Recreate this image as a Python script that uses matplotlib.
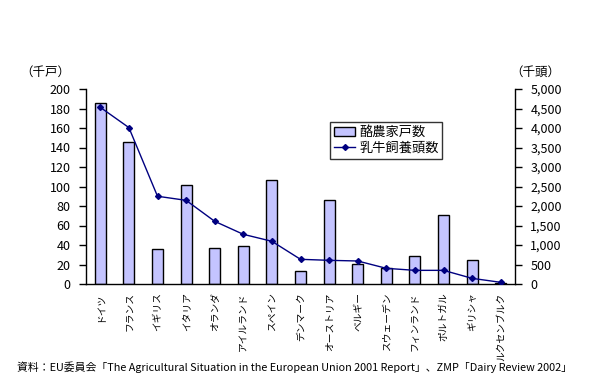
import matplotlib
matplotlib.use("Agg")
import matplotlib.pyplot as plt

plt.rcParams['font.family'] = ['Noto Sans CJK JP', 'DejaVu Sans']

# 国名（縦書きラベル）
countries = ['ドイツ', 'フランス', 'イギリス', 'イタリア', 'オランダ', 'アイルランド',
             'スペイン', 'デンマーク', 'オーストリア', 'ベルギー', 'スウェーデン',
             'フィンランド', 'ポルトガル', 'ギリシャ', 'ルクセンブルク']

# 酪農家戸数（千戸）
farms = [186, 146, 35.6, 102, 36.6, 38.7, 106.6, 13.3, 85.8, 20.2, 16.4, 28.4, 70.8, 24.3, 1]
# 乳牛飼養頭数（千頭）
cows = [4530, 4010, 2250, 2145, 1607, 1274, 1095, 633, 607, 590, 402, 350, 350, 145, 43]

n = len(farms)
x = list(range(n))

fig = plt.figure(figsize=(6.13, 3.87), dpi=100)
ax = fig.add_axes([86 / 613, 1 - 284 / 387, (515 - 86) / 613, (284 - 89) / 387])
ax2 = ax.twinx()

bars = ax.bar(x, farms, width=0.38, color='#C4C4FF', edgecolor='black', linewidth=1,
              label='酪農家戸数', zorder=2)
line, = ax2.plot(x, cows, color='#000080', linewidth=1, marker='D', markersize=3,
                 label='乳牛飼養頭数', zorder=3)

ax.set_xlim(-0.5, n - 0.5)
ax.set_ylim(0, 200)
ax.set_yticks(range(0, 201, 20))
ax2.set_ylim(0, 5000)
ax2.set_yticks(range(0, 5001, 500))
ax2.set_yticklabels([f'{v:,}' for v in range(0, 5001, 500)])

for a in (ax, ax2):
    a.spines['top'].set_visible(False)
    a.tick_params(axis='y', direction='out', length=5, width=1, labelsize=9, pad=6)
    for s in a.spines.values():
        s.set_linewidth(1)
ax.spines['right'].set_visible(False)
ax2.spines['left'].set_visible(False)
ax2.spines['bottom'].set_visible(False)

ax.set_xticks(x)
ax.set_xticklabels(countries, rotation=90, fontsize=7, va='top', ha='center')
ax.tick_params(axis='x', length=0, pad=6)

fig.text(20 / 613, 1 - 72 / 387, '（千戸）', fontsize=9, va='center', ha='left')
fig.text(510 / 613, 1 - 72 / 387, '（千頭）', fontsize=9, va='center', ha='left')

leg = ax.legend([bars, line], ['酪農家戸数', '乳牛飼養頭数'], loc='upper left',
                bbox_to_anchor=((330 - 86) / 429, (284 - 122) / 195), fontsize=9.5,
                frameon=True, fancybox=False, edgecolor='black', borderpad=0.3,
                handlelength=1.6, handletextpad=0.3, labelspacing=0.2,
                borderaxespad=0)
leg.get_frame().set_linewidth(1)

fig.text(17 / 613, 1 - 367 / 387,
         '資料：EU委員会「The Agricultural Situation in the European Union 2001 Report」、ZMP「Dairy Review 2002」',
         fontsize=7.8, va='center', ha='left')

fig.savefig('out.png', dpi=100)
